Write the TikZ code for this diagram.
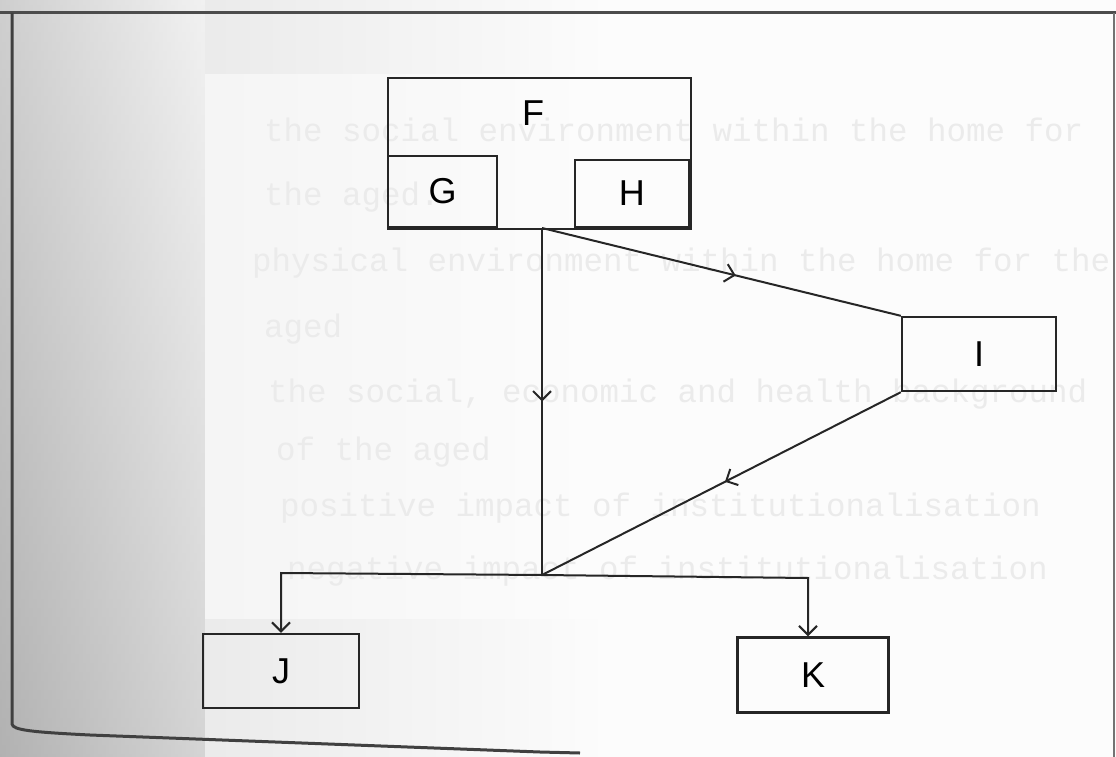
\documentclass[tikz,border=0pt]{standalone}
\usepackage{fontspec}
\setmainfont{Liberation Sans}
\newfontfamily\bleedfont{Liberation Mono}
\usetikzlibrary{arrows.meta,decorations.markings}
\begin{document}
\begin{tikzpicture}[x=1pt,y=-1pt,
  box/.style={draw=black!85,line width=2.4pt,inner sep=0pt,font=\fontsize{36}{36}\selectfont},
  lbl/.style={inner sep=0pt,font=\fontsize{36}{36}\selectfont},
  conn/.style={draw=black!85,line width=2pt},
  barb/.style={-{Straight Barb[length=9pt,width=18pt,line width=2pt]}},
  midarrow/.style={postaction={decorate},decoration={markings,mark=at position #1 with {\arrow{Straight Barb[length=9pt,width=18pt,line width=2pt]}}}},
  bleed/.style={anchor=west,inner sep=0pt,text=gray!16,font=\bleedfont\fontsize{32.5}{32.5}\selectfont}
]
\useasboundingbox (0,0) rectangle (1116,757);
% paper background
\fill[gray!2] (0,0) rectangle (1116,757);
\shade[left color=gray!58,right color=gray!16] (0,0) rectangle (205,757);
\shade[top color=white,bottom color=gray!65,opacity=0.35] (0,0) rectangle (205,757);
\shade[left color=gray!16,right color=gray!2] (205,0) rectangle (620,757);
\shade[left color=gray!8,right color=gray!2] (205,75) rectangle (620,618);
% page frame
\draw[line width=3pt,black!70] (0,13) -- (1116,13);
\draw[line width=3pt,black!75] (12,13) -- (12,724) .. controls (13,730) and (30,732) .. (90,735) -- (540,752) -- (580,753);
\draw[line width=1.5pt,black!55] (1114,13) -- (1114,757);
% bleed-through text
\node[bleed] (t1) at (264,130) {the social environment within the home for};
\node[bleed] (t2) at (264,197) {the aged.};
\node[bleed] (t3) at (252,263) {physical environment within the home for the};
\node[bleed] (t4) at (264,329) {aged};
\node[bleed] (t5) at (268,394) {the social, economic and health background};
\node[bleed] (t6) at (276,452) {of the aged};
\node[bleed] (t7) at (280,508) {positive impact of institutionalisation};
\node[bleed] (t8) at (287,571) {negative impact of institutionalisation};
% boxes
\node[box,anchor=north west,minimum width=303pt,minimum height=151pt] (F) at (387,77) {};
\node[lbl] (Ft) at (533,113) {F};
\node[box,anchor=south west,minimum width=109pt,minimum height=71pt] (G) at (387,228) {G};
\node[box,anchor=south east,minimum width=114pt,minimum height=67pt] (H) at (690,228) {H};
\node[box,minimum width=154pt,minimum height=74pt] (I) at (979,354) {I};
\node[box,minimum width=156pt,minimum height=74pt] (J) at (281,671) {J};
\node[box,minimum width=151pt,minimum height=75pt] (K) at (813,675) {K};
% junctions
\coordinate (top) at (542,228);
\coordinate (junc) at (542,575);
\coordinate (jc) at (281,573);
\coordinate (kc) at (808,578);
% connectors
\draw[conn,midarrow=0.5] (top) -- (junc);
\draw[conn,midarrow=0.54] (top) -- (I.north west);
\draw[conn,midarrow=0.49] (I.south west) -- (junc);
\draw[conn,barb] (junc) -- (jc) -- (J.north);
\draw[conn,barb] (junc) -- (kc) -- (kc |- K.north);
\end{tikzpicture}
\end{document}
